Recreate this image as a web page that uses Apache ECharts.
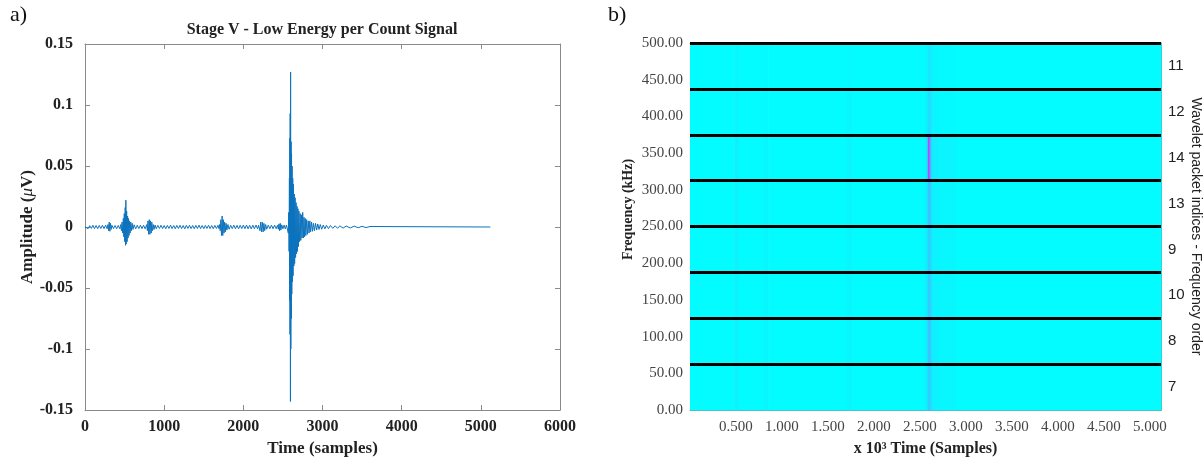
<!DOCTYPE html>
<html>
<head>
<meta charset="utf-8">
<script src="https://cdn.jsdelivr.net/npm/echarts@6/dist/echarts.min.js"></script>
<style>
  html, body { margin: 0; padding: 0; background: #fff; }
  #main { width: 1204px; height: 462px; }
</style>
</head>
<body>
<div id="main"></div>
<script>
// ---- panel a) : signal, [sample, amplitude uV] ----
const noiseStart = [[0,0],[20,0.0012],[40,-0.0013],[60,0.0011],[80,-0.0012],[100,0.0014],[120,-0.0013],[140,0.0012],[160,-0.0014],[180,0.0013],[200,-0.0012],[220,0.0014],[240,-0.0013],[260,0.0015],[280,-0.0014]];
const burst300 = [[290,0.002],[298,-0.003],[306,0.004],[314,-0.0035],[322,0.003],[330,-0.002],[340,0.0014],[360,-0.0013],[380,0.0012],[400,-0.0014],[420,0.0013],[440,-0.0015]];
const burst500 = [[452,0.002],[460,-0.003],[468,0.004],[476,-0.005],[484,0.007],[490,-0.008],[496,0.011],[502,-0.012],[508,0.016],[512,-0.015],[516,0.022],[520,-0.014],[526,0.013],[532,-0.012],[538,0.009],[544,-0.009],[550,0.007],[556,-0.007],[562,0.005],[570,-0.005],[578,0.004],[586,-0.003],[596,0.003],[606,-0.002],[620,0.0018],[640,-0.0015],[660,0.0014],[680,-0.0013],[700,0.0015],[720,-0.0013],[740,0.0014],[760,-0.0015]];
const burst820 = [[780,0.002],[788,-0.003],[796,0.005],[804,-0.006],[812,0.006],[820,-0.006],[828,0.005],[836,-0.005],[844,0.004],[852,-0.003],[862,0.002],[872,-0.002],[885,0.0016],[900,-0.0014]];
const noiseMid = [[920,0.0013],[940,-0.0012],[960,0.0014],[980,-0.0013],[1000,0.0012],[1020,-0.0014],[1040,0.0013],[1060,-0.0012],[1080,0.0015],[1100,-0.0013],[1120,0.0012],[1140,-0.0014],[1160,0.0013],[1180,-0.0012],[1200,0.0014],[1220,-0.0013],[1240,0.0012],[1260,-0.0015],[1280,0.0013],[1300,-0.0012],[1320,0.0014],[1340,-0.0013],[1360,0.0012],[1380,-0.0014],[1400,0.0013],[1420,-0.0012],[1440,0.0015],[1460,-0.0013],[1480,0.0012],[1500,-0.0014],[1520,0.0013],[1540,-0.0012],[1560,0.0014],[1580,-0.0013],[1600,0.0012],[1620,-0.0014],[1640,0.0013],[1660,-0.0012],[1680,0.0014],[1692,-0.0013]];
const burst1730 = [[1700,0.002],[1708,-0.003],[1716,0.006],[1724,-0.007],[1732,0.009],[1740,-0.007],[1748,0.006],[1756,-0.005],[1764,0.004],[1772,-0.004],[1782,0.003],[1792,-0.0025],[1805,0.002],[1820,-0.0018]];
const noiseLate = [[1840,0.0014],[1860,-0.0013],[1880,0.0015],[1900,-0.0014],[1920,0.0013],[1940,-0.0015],[1960,0.0014],[1980,-0.0013],[2000,0.0015],[2020,-0.0014],[2040,0.0016],[2060,-0.0015],[2080,0.0014],[2100,-0.0016],[2120,0.0015],[2140,-0.0014],[2160,0.0016],[2180,-0.0015],[2192,0.0014]];
const burst2230 = [[2200,0.002],[2210,-0.003],[2220,0.004],[2230,-0.004],[2240,0.004],[2250,-0.004],[2260,0.003],[2270,-0.003],[2282,0.002],[2295,-0.0018],[2315,0.0015],[2335,-0.0014],[2355,0.0015],[2375,-0.0014],[2395,0.0015],[2415,-0.0014],[2432,0.0015],[2442,-0.0018],[2450,0.0025],[2458,-0.003],[2466,0.003],[2474,-0.0025],[2485,0.0018],[2500,-0.0015],[2515,0.0016],[2530,-0.0015],[2545,0.0016]];
const burstMain = [[2560,0.003],[2568,-0.005],[2574,0.012],[2578,-0.02],[2582,0.04],[2585,-0.06],[2588,0.073],[2590,-0.088],[2592,0.093],[2595,-0.143],[2597,0.127],[2600,-0.1],[2603,0.07],[2606,-0.075],[2609,0.06],[2612,-0.055],[2616,0.05],[2620,-0.045],[2624,0.04],[2628,-0.04],[2633,0.035],[2638,-0.032],[2643,0.027],[2648,-0.03],[2654,0.024],[2660,-0.025],[2666,0.02],[2672,-0.022],[2678,0.017],[2684,-0.02],[2690,0.015],[2696,-0.016],[2702,0.013],[2710,-0.012],[2718,0.011],[2726,-0.011],[2734,0.01],[2742,-0.009],[2750,0.012],[2758,-0.009],[2766,0.008],[2774,-0.008],[2782,0.007],[2790,-0.007],[2800,0.006],[2810,-0.006],[2820,0.005],[2830,-0.005],[2840,0.005],[2850,-0.004],[2862,0.004],[2874,-0.0035],[2886,0.003],[2898,-0.003],[2912,0.003],[2926,-0.0025],[2940,0.0025],[2956,-0.002],[2972,0.002],[2990,-0.0018],[3010,0.0016],[3030,-0.0015],[3050,0.0014],[3075,-0.0013],[3100,0.0012],[3130,-0.0011],[3160,0.001],[3190,-0.001],[3220,0.0009],[3260,-0.0009],[3300,0.0008],[3350,-0.0008],[3400,0.0007],[3450,-0.0006],[3500,0.0006],[3550,-0.0005],[3600,0.0004],[3620,0],[5120,0]];

// ---- panel b) : wavelet packet map ----
const bandEdges = [0, 62.5, 125, 187.5, 250, 312.5, 375, 437.5, 500];       // kHz
const packetIndices = ['7', '8', '10', '9', '13', '14', '12', '11'];          // bottom -> top
const timeEdges = [0, 0.48, 0.53, 0.80, 0.85, 1.70, 1.76, 2.56, 2.585, 2.605, 2.625, 2.70, 2.90, 5.12]; // x10^3 samples
// energy level per band (rows bottom -> top) and time column
const bandLevels = [
  [0.01, 0.05, 0.01, 0.03, 0.01, 0.03, 0.01, 0.08, 0.20, 0.16, 0.05, 0.03, 0.01],
  [0.01, 0.05, 0.01, 0.03, 0.01, 0.03, 0.01, 0.08, 0.24, 0.20, 0.06, 0.03, 0.01],
  [0.01, 0.05, 0.01, 0.03, 0.01, 0.03, 0.01, 0.08, 0.22, 0.18, 0.05, 0.03, 0.01],
  [0.01, 0.05, 0.01, 0.03, 0.01, 0.03, 0.01, 0.08, 0.20, 0.16, 0.05, 0.03, 0.01],
  [0.01, 0.05, 0.01, 0.03, 0.01, 0.03, 0.01, 0.08, 0.24, 0.20, 0.05, 0.03, 0.01],
  [0.01, 0.06, 0.01, 0.03, 0.01, 0.04, 0.01, 0.10, 0.72, 0.28, 0.07, 0.04, 0.01],
  [0.01, 0.04, 0.01, 0.02, 0.01, 0.03, 0.01, 0.06, 0.14, 0.12, 0.04, 0.02, 0.01],
  [0.01, 0.03, 0.01, 0.02, 0.01, 0.02, 0.01, 0.04, 0.10, 0.08, 0.03, 0.02, 0.01]
];

const serif = '"Liberation Serif", "DejaVu Serif", serif';
const sans = '"Liberation Sans", Arial, sans-serif';

const signalData = [].concat(noiseStart, burst300, burst500, burst820, noiseMid, burst1730, noiseLate, burst2230, burstMain);

const cells = [];
bandLevels.forEach(function (row, b) {
  row.forEach(function (lv, c) {
    cells.push([timeEdges[c], timeEdges[c + 1], bandEdges[b], bandEdges[b + 1], lv]);
  });
});

var myChart = echarts.init(document.getElementById('main'));

const frameGray = '#8a8a8a';
function tickOnly(extra) {
  return Object.assign({
    axisLine: { show: true, onZero: false, lineStyle: { color: frameGray } },
    axisTick: { show: true, inside: true, length: 5, lineStyle: { color: frameGray } },
    axisLabel: { show: false },
    splitLine: { show: false }
  }, extra);
}

const option = {
  animation: false,
  backgroundColor: '#fff',
  graphic: [
    { type: 'text', left: 10, top: 4, style: { text: 'a)', font: '22px ' + serif, fill: '#111' } },
    { type: 'text', left: 608, top: 4, style: { text: 'b)', font: '22px ' + serif, fill: '#111' } },
    { type: 'text', x: 322, y: 30, style: { text: 'Stage V - Low Energy per Count Signal', font: 'bold 16px ' + serif, fill: '#222', align: 'center', verticalAlign: 'middle' } }
  ],
  grid: [
    { left: 85, top: 44, width: 475, height: 368 },
    { left: 690, top: 43, width: 471, height: 370 }
  ],
  visualMap: {
    show: false,
    seriesIndex: 1,
    dimension: 4,
    min: 0,
    max: 1,
    inRange: { color: ['#00ffff', '#ff00ff'] }
  },
  xAxis: [
    {
      gridIndex: 0, type: 'value', min: 0, max: 6000, interval: 1000,
      name: 'Time (samples)', nameLocation: 'middle', nameGap: 30,
      nameTextStyle: { fontFamily: serif, fontWeight: 'bold', fontSize: 17, color: '#222' },
      axisLine: { onZero: false, lineStyle: { color: frameGray } },
      axisTick: { inside: true, length: 5, lineStyle: { color: frameGray } },
      axisLabel: {
        fontFamily: serif, fontWeight: 'bold', fontSize: 16, color: '#222', margin: 9,
        formatter: function (v) { return String(v); }
      },
      splitLine: { show: false }
    },
    tickOnly({ gridIndex: 0, type: 'value', position: 'top', min: 0, max: 6000, interval: 1000 }),
    {
      gridIndex: 1, type: 'value', min: 0, max: 5.12, interval: 0.5,
      name: 'x 10³ Time (Samples)', nameLocation: 'middle', nameGap: 31,
      nameTextStyle: { fontFamily: serif, fontWeight: 'bold', fontSize: 16, color: '#222' },
      axisLine: { onZero: false, lineStyle: { color: frameGray } },
      axisTick: { inside: true, length: 5, lineStyle: { color: frameGray } },
      axisLabel: {
        fontFamily: serif, fontSize: 15, color: '#444', margin: 10,
        showMinLabel: false, showMaxLabel: false,
        formatter: function (v) { return v.toFixed(3); }
      },
      splitLine: { show: false }
    },
    tickOnly({ gridIndex: 1, type: 'value', position: 'top', min: 0, max: 5.12, interval: 0.5 })
  ],
  yAxis: [
    {
      gridIndex: 0, type: 'value', min: -0.15, max: 0.15, interval: 0.05,
      name: '{b|Amplitude (}{i|μ}{b|V)}', nameLocation: 'middle', nameGap: 49,
      nameTextStyle: {
        rich: {
          b: { fontFamily: serif, fontWeight: 'bold', fontSize: 17, color: '#222' },
          i: { fontFamily: serif, fontStyle: 'italic', fontSize: 17, color: '#222' }
        }
      },
      axisLine: { show: true, onZero: false, lineStyle: { color: frameGray } },
      axisTick: { show: true, inside: true, length: 5, lineStyle: { color: frameGray } },
      axisLabel: {
        fontFamily: serif, fontWeight: 'bold', fontSize: 16, color: '#222', margin: 12,
        formatter: function (v) { return String(Math.round(v * 100) / 100); }
      },
      splitLine: { show: false }
    },
    tickOnly({ gridIndex: 0, type: 'value', position: 'right', min: -0.15, max: 0.15, interval: 0.05 }),
    {
      gridIndex: 1, type: 'value', min: 0, max: 500, interval: 50,
      name: 'Frequency (kHz)', nameLocation: 'middle', nameGap: 55,
      nameTextStyle: { fontFamily: serif, fontWeight: 'bold', fontSize: 14, color: '#222', padding: [0, 0, 0, 34] },
      axisLine: { show: true, onZero: false, lineStyle: { color: frameGray } },
      axisTick: { show: true, inside: true, length: 5, lineStyle: { color: frameGray } },
      axisLabel: {
        fontFamily: serif, fontSize: 15, color: '#444', margin: 7,
        formatter: function (v) { return v.toFixed(2); }
      },
      splitLine: { show: false }
    },
    tickOnly({ gridIndex: 1, type: 'value', position: 'right', min: 0, max: 500, interval: 50 }),
    {
      gridIndex: 1, type: 'category', position: 'right', data: packetIndices,
      name: 'Wavelet packet indices - Frequency order', nameLocation: 'middle', nameGap: 19, nameRotate: -90,
      nameTextStyle: { fontFamily: sans, fontSize: 14, color: '#222' },
      axisLine: { show: false, onZero: false },
      axisTick: { show: false },
      axisLabel: { fontFamily: sans, fontSize: 15, color: '#222', margin: 7 },
      splitLine: { show: false }
    }
  ],
  series: [
    {
      type: 'line', xAxisIndex: 0, yAxisIndex: 0,
      data: signalData,
      showSymbol: false, sampling: null,
      lineStyle: { width: 1, color: '#0b72bd' },
      itemStyle: { color: '#0b72bd' }
    },
    {
      type: 'custom', xAxisIndex: 2, yAxisIndex: 2,
      data: cells,
      encode: { x: [0, 1], y: [2, 3] },
      renderItem: function (params, api) {
        const p0 = api.coord([api.value(0), api.value(2)]);
        const p1 = api.coord([api.value(1), api.value(3)]);
        return {
          type: 'rect',
          shape: { x: p0[0], y: p1[1], width: p1[0] - p0[0] + 0.6, height: p0[1] - p1[1] + 0.6 },
          style: { fill: api.visual('color') }
        };
      },
      markLine: {
        silent: true, symbol: 'none', label: { show: false },
        lineStyle: { color: '#000', width: 3, type: 'solid' },
        data: bandEdges.slice(1).map(function (v) { return { yAxis: v }; })
      }
    }
  ]
};

myChart.setOption(option);
</script>
</body>
</html>
